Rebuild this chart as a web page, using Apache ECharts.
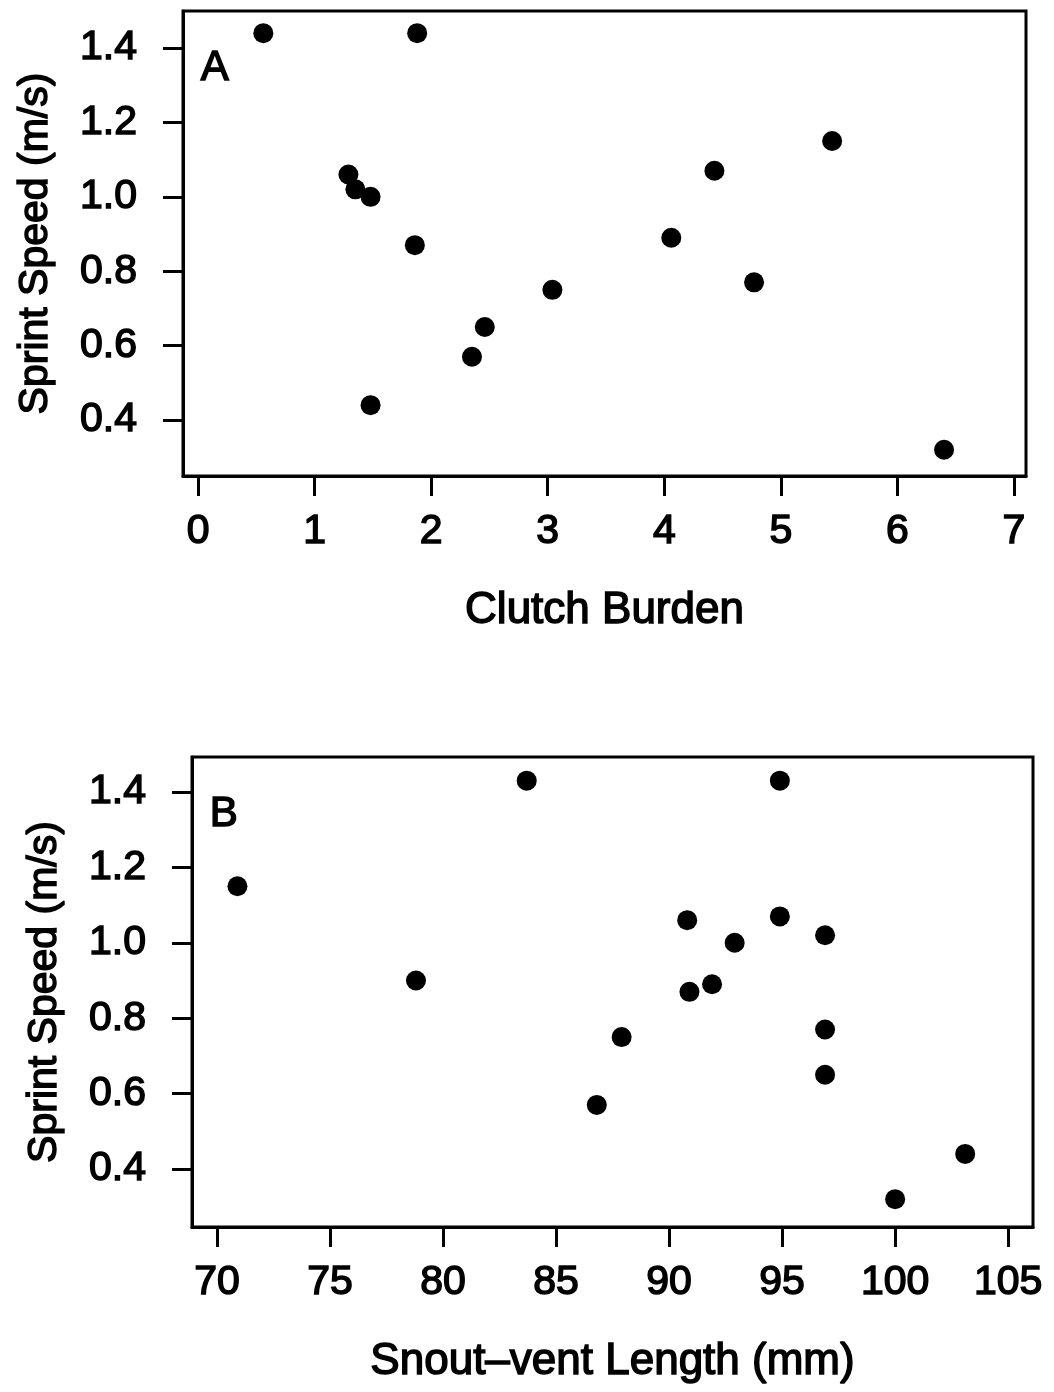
<!DOCTYPE html>
<html><head><meta charset="utf-8">
<script src="https://cdn.jsdelivr.net/npm/echarts@6/dist/echarts.min.js"></script>
<style>html,body{margin:0;padding:0;background:#fff}#c{width:1054px;height:1392px}</style>
</head><body><div id="c"></div>
<script>
// Panel A: Clutch Burden vs Sprint Speed
const clutchBurden = [0.56, 1.88, 1.29, 1.35, 1.48, 1.86, 1.48, 2.35, 2.46, 3.04, 4.06, 4.43, 4.77, 5.44, 6.40];
const speedA       = [1.44, 1.44, 1.06, 1.02, 1.00, 0.87, 0.44, 0.57, 0.65, 0.75, 0.89, 1.07, 0.77, 1.15, 0.32];
// Panel B: Snout-vent Length vs Sprint Speed
const svl    = [70.9, 78.8, 83.7, 94.9, 90.8, 94.9, 92.9, 96.9, 90.9, 91.9, 87.9, 96.9, 96.9, 86.8, 100.0, 103.1];
const speedB = [1.15, 0.90, 1.43, 1.43, 1.06, 1.07, 1.00, 1.02, 0.87, 0.89, 0.75, 0.77, 0.65, 0.57, 0.32, 0.44];
// Tick labels
const xTicksA = [0, 1, 2, 3, 4, 5, 6, 7];
const xTicksB = [70, 75, 80, 85, 90, 95, 100, 105];
const yTicks  = [0.4, 0.6, 0.8, 1.0, 1.2, 1.4];
const xTitleA = 'Clutch Burden';
const xTitleB = 'Snout\u2013vent Length (mm)';
const yTitle  = 'Sprint Speed (m/s)';
const panelLabels = ['A', 'B'];

const FONT = '"Liberation Sans", Arial, Helvetica, sans-serif';
const BLACK = '#000';
const THICK = { textBorderColor: BLACK, textBorderWidth: 1.5 };

function pairs(xs, ys) { return xs.map((x, i) => [x, ys[i]]); }

function makeX(gi, min, max, ticks, name) {
  return {
    type: 'value', gridIndex: gi, min: min, max: max,
    axisLine: { show: true, onZero: false, lineStyle: { color: BLACK, width: 3 } },
    axisTick: { show: true, inside: false, length: 20, customValues: ticks, lineStyle: { color: BLACK, width: 3 } },
    axisLabel: Object.assign({ customValues: ticks, margin: 35, color: BLACK, fontSize: 41, fontFamily: FONT,
                 formatter: v => String(v) }, THICK),
    splitLine: { show: false },
    name: name, nameLocation: 'middle', nameGap: 113,
    nameTextStyle: Object.assign({ color: BLACK, fontSize: 44, fontFamily: FONT }, THICK)
  };
}
function makeY(gi, min, max, ticks, name) {
  return {
    type: 'value', gridIndex: gi, min: min, max: max,
    axisLine: { show: true, onZero: false, lineStyle: { color: BLACK, width: 3 } },
    axisTick: { show: true, inside: false, length: 20, customValues: ticks, lineStyle: { color: BLACK, width: 3 } },
    axisLabel: Object.assign({ customValues: ticks, margin: 46, color: BLACK, fontSize: 41, fontFamily: FONT,
                 formatter: v => Number(v).toFixed(1) }, THICK),
    splitLine: { show: false },
    name: name, nameLocation: 'middle', nameGap: 127,
    nameTextStyle: Object.assign({ color: BLACK, fontSize: 41, fontFamily: FONT }, THICK)
  };
}

const chart = echarts.init(document.getElementById('c'), null, { renderer: 'canvas' });
chart.setOption({
  animation: false,
  backgroundColor: '#fff',
  grid: [
    { left: 183, top: 11, width: 843, height: 465, show: true, borderColor: BLACK, borderWidth: 3, backgroundColor: 'transparent' },
    { left: 192, top: 757, width: 841, height: 470, show: true, borderColor: BLACK, borderWidth: 3, backgroundColor: 'transparent' }
  ],
  xAxis: [
    makeX(0, -0.129, 7.103, xTicksA, xTitleA),
    makeX(1, 68.89, 106.1, xTicksB, xTitleB)
  ],
  yAxis: [
    makeY(0, 0.2495, 1.4995, yTicks, yTitle),
    makeY(1, 0.2462, 1.4928, yTicks, yTitle)
  ],
  graphic: [
    { type: 'text', left: 200, top: 47, style: { text: panelLabels[0], fill: BLACK, font: '42px ' + FONT, stroke: BLACK, lineWidth: 1.5 } },
    { type: 'text', left: 209, top: 793, style: { text: panelLabels[1], fill: BLACK, font: '42px ' + FONT, stroke: BLACK, lineWidth: 1.5 } }
  ],
  series: [
    { type: 'scatter', xAxisIndex: 0, yAxisIndex: 0, data: pairs(clutchBurden, speedA),
      symbol: 'circle', symbolSize: 20, itemStyle: { color: BLACK, opacity: 1 } },
    { type: 'scatter', xAxisIndex: 1, yAxisIndex: 1, data: pairs(svl, speedB),
      symbol: 'circle', symbolSize: 20, itemStyle: { color: BLACK, opacity: 1 } }
  ]
});
</script>
</body></html>
